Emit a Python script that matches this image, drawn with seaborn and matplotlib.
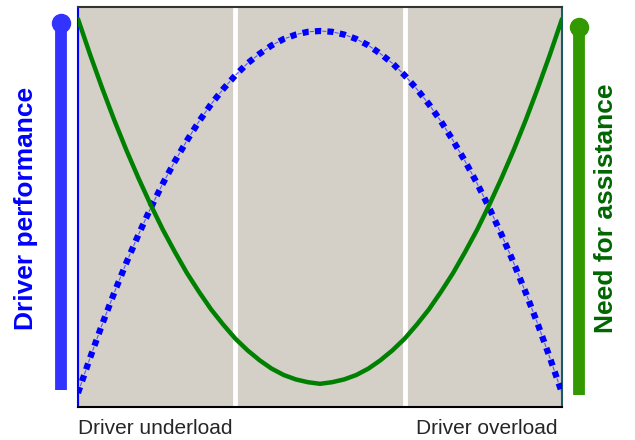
import numpy as np
import pandas as pd
import seaborn as sns
from matplotlib import pyplot as plt
from matplotlib.lines import Line2D

# workload positions (0 = underload, 1 = overload)
workload = [0.000, 0.025, 0.050, 0.075, 0.100, 0.125, 0.150, 0.175, 0.200,
            0.225, 0.250, 0.275, 0.300, 0.325, 0.350, 0.375, 0.400, 0.425,
            0.450, 0.475, 0.500, 0.525, 0.550, 0.575, 0.600, 0.625, 0.650,
            0.675, 0.700, 0.725, 0.750, 0.775, 0.800, 0.825, 0.850, 0.875,
            0.900, 0.925, 0.950, 0.975, 1.000]
performance = [0.035, 0.123, 0.207, 0.286, 0.361, 0.431, 0.497, 0.558, 0.614,
               0.666, 0.714, 0.757, 0.795, 0.829, 0.859, 0.883, 0.904, 0.920,
               0.931, 0.938, 0.940, 0.938, 0.931, 0.920, 0.904, 0.883, 0.859,
               0.829, 0.795, 0.757, 0.714, 0.666, 0.614, 0.558, 0.497, 0.431,
               0.361, 0.286, 0.207, 0.123, 0.035]
assistance = [0.970, 0.881, 0.797, 0.717, 0.642, 0.572, 0.506, 0.444, 0.388,
              0.335, 0.288, 0.244, 0.206, 0.171, 0.142, 0.117, 0.096, 0.080,
              0.069, 0.062, 0.058, 0.062, 0.069, 0.080, 0.096, 0.117, 0.142,
              0.171, 0.206, 0.244, 0.288, 0.335, 0.388, 0.444, 0.506, 0.572,
              0.642, 0.717, 0.797, 0.881, 0.970]
zone_edges = [0.325, 0.675]
bottom_labels = ['Driver underload', 'Driver overload']

df = pd.DataFrame({'workload': workload,
                   'performance': performance,
                   'assistance': assistance})

sns.set_style('white')
plt.rcParams['font.family'] = ['Liberation Sans', 'DejaVu Sans']

fig = plt.figure(figsize=(6.35, 4.4), dpi=100)
ax = fig.add_axes([78 / 635, 33 / 440, 484 / 635, 400 / 440])
ax.set_facecolor('#d4d0c8')

# zone separators
for xe in zone_edges:
    ax.axvline(xe, color='white', lw=3.5, zorder=1)

# driver performance: thin dashes under square dots
sns.lineplot(data=df, x='workload', y='performance', ax=ax, color='#5555ff',
             lw=0.8, linestyle=(4.69, (3.75, 7.5)), zorder=2)
sns.lineplot(data=df, x='workload', y='performance', ax=ax, color='#0000ff',
             lw=4.5, linestyle=(0, (1, 1)), zorder=3)
# need for assistance
sns.lineplot(data=df, x='workload', y='assistance', ax=ax, color='#008000',
             lw=3.2, zorder=3)

ax.set_xlim(0, 1)
ax.set_ylim(0, 1)
ax.set_xticks([])
ax.set_yticks([])
ax.set_xlabel('')
ax.set_ylabel('')

ax.spines['left'].set_color('#0000ff')
ax.spines['right'].set_color('#1a5a6a')
ax.spines['top'].set_color('#333333')
ax.spines['bottom'].set_color('black')
for sp in ax.spines.values():
    sp.set_linewidth(1.5)


# side arrows
def side_arrow(xpx, y0px, y1px, color):
    x = xpx / 635
    fig.add_artist(Line2D([x, x], [1 - y0px / 440, 1 - (y1px + 9) / 440],
                          color=color, lw=8.5, solid_capstyle='butt'))
    fig.add_artist(Line2D([x], [1 - (y1px + 9) / 440], marker='o',
                          markersize=13, color=color, lw=0))


side_arrow(61, 390, 14, '#3333ff')
side_arrow(579, 395, 18, '#339900')

fig.text(26 / 635, 1 - 208 / 440, 'Driver performance', color='#0000ff',
         rotation=90, ha='center', va='center', fontsize=19,
         fontweight='bold')
fig.text(606 / 635, 1 - 208 / 440, 'Need for assistance', color='#006600',
         rotation=90, ha='center', va='center', fontsize=19,
         fontweight='bold')

fig.text(78 / 635, 1 - 428 / 440, bottom_labels[0], ha='left', va='center',
         fontsize=15)
fig.text(558 / 635, 1 - 428 / 440, bottom_labels[1], ha='right',
         va='center', fontsize=15)

fig.savefig('out.png', dpi=100)
